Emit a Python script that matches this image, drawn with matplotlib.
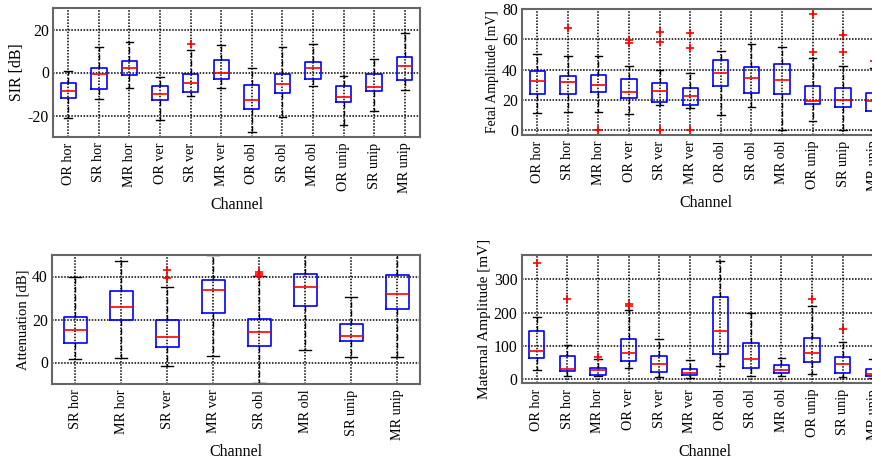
import matplotlib
matplotlib.use("Agg")
import matplotlib.pyplot as plt

plt.rcParams['font.family'] = ['Liberation Serif', 'DejaVu Serif']
plt.rcParams['axes.unicode_minus'] = False

ch12 = ['OR hor', 'SR hor', 'MR hor', 'OR ver', 'SR ver', 'MR ver',
        'OR obl', 'SR obl', 'MR obl', 'OR unip', 'SR unip', 'MR unip']
ch8 = ['SR hor', 'MR hor', 'SR ver', 'MR ver', 'SR obl', 'MR obl', 'SR unip', 'MR unip']

# SIR [dB]
sir_med = [-8.4, -0.6, 1.9, -10.0, -4.8, 0.0, -13.0, -5.5, 2.2, -11.6, -6.7, 2.8]
sir_q1 = [-12.0, -7.5, -1.25, -13.0, -9.1, -3.1, -16.9, -9.7, -2.8, -13.9, -8.6, -3.4]
sir_q3 = [-5.0, 2.3, 5.2, -6.25, -0.8, 5.6, -5.9, -0.5, 5.0, -6.1, -0.9, 7.0]
sir_lo = [-21.1, -12.3, -7.0, -21.9, -10.8, -7.3, -27.5, -20.5, -6.1, -24.4, -17.7, -8.0]
sir_hi = [0.9, 11.9, 14.1, -2.0, 10.5, 12.7, 1.9, 11.9, 13.1, -1.6, 6.1, 18.4]
sir_out = [[], [], [], [], [13.3], [], [], [], [], [], [], []]

# Fetal amplitude [mV]
fet_med = [32.9, 32.0, 30.3, 25.4, 26.1, 22.8, 38.2, 34.4, 33.1, 19.7, 20.4, 19.1]
fet_q1 = [23.9, 24.3, 25.4, 21.5, 18.9, 16.9, 29.4, 24.6, 24.3, 17.3, 15.6, 12.9]
fet_q3 = [39.5, 36.0, 36.6, 34.2, 31.6, 28.3, 46.3, 42.1, 43.6, 29.6, 28.3, 25.0]
fet_lo = [11.4, 12.1, 12.1, 10.7, 16.7, 14.9, 10.3, 15.4, 0.0, 6.4, 0.0, 0.0]
fet_hi = [50.7, 49.3, 49.3, 42.8, 40.1, 38.2, 52.2, 57.2, 55.3, 47.6, 42.5, 41.0]
fet_out = [[], [67.5], [0.0], [59.6, 57.9], [64.9, 58.1, 0.0], [64.5, 54.2, 0.0],
           [], [], [], [76.8, 51.5], [63.2, 51.5], [46.1]]

# Attenuation [dB]
att_med = [15.0, 25.7, 12.0, 33.8, 14.0, 35.2, 12.1, 31.8]
att_q1 = [8.9, 19.6, 7.2, 23.2, 7.8, 26.3, 9.8, 25.1]
att_q3 = [21.3, 33.3, 19.6, 38.2, 20.4, 41.3, 18.1, 40.7]
att_lo = [1.4, 2.2, -1.4, 3.0, -9.7, 5.8, 2.6, 2.5]
att_hi = [39.7, 47.2, 35.2, 49.8, 40.3, 52.0, 30.5, 52.0]
att_out = [[], [], [42.8, 39.1], [], [41.9, 41.0, 40.3], [], [], []]

# Maternal amplitude [mV]
mat_med = [84, 29, 26, 77, 45, 18, 143, 61, 28, 78, 45, 15]
mat_q1 = [62, 23, 13, 55, 21, 12, 75, 33, 18, 52, 19, 8]
mat_q3 = [143, 69, 33, 119, 69, 29, 246, 107, 41, 123, 67, 29]
mat_lo = [28, 10, 8, 33, 7, 4, 38, 9, 9, 15, 6, 3]
mat_hi = [188, 101, 61, 208, 120, 56, 355, 198, 64, 219, 110, 60]
mat_out = [[350], [240], [65], [225, 219], [], [], [], [], [], [240], [149], []]

W, H = 872, 459
fig = plt.figure(figsize=(W / 100, H / 100), dpi=100)


def make_ax(px_left, px_top, px_bottom, px_width=367):
    return fig.add_axes([px_left / W, 1 - px_bottom / H, px_width / W, (px_bottom - px_top) / H])


def draw(ax, labels, med, q1, q3, lo, hi, out, ylim, yticks, ylabel, ylabel_size):
    stats = []
    for i, lab in enumerate(labels):
        stats.append(dict(label=lab, med=med[i], q1=q1[i], q3=q3[i],
                          whislo=lo[i], whishi=hi[i], fliers=out[i]))
    ax.set_axisbelow(True)
    ax.bxp(stats, positions=range(1, len(labels) + 1), widths=0.5,
           showfliers=True, capwidths=0.25,
           boxprops=dict(color='#0000ff', linewidth=1.2),
           medianprops=dict(color='#ff0000', linewidth=1.2),
           whiskerprops=dict(color='black', linewidth=1.0, linestyle=(0, (4, 2))),
           capprops=dict(color='black', linewidth=1.0),
           flierprops=dict(marker='+', markeredgecolor='#ff0000', markersize=6,
                           markeredgewidth=1.2, linestyle='none'))
    ax.set_xlim(0.5, len(labels) + 0.5)
    ax.set_ylim(*ylim)
    ax.set_yticks(yticks)
    ax.set_xticks(range(1, len(labels) + 1))
    ax.set_xticklabels(labels, rotation=90, fontsize=10.2)
    ax.tick_params(axis='y', labelsize=11.3, length=0, pad=3)
    ax.tick_params(axis='x', length=0, pad=4)
    ax.grid(True, color='black', linestyle=(0, (1, 1)), linewidth=1.1)
    for s in ax.spines.values():
        s.set_color('#666666')
        s.set_linewidth(1.5)
    ax.set_xlabel('Channel', fontsize=11.5, labelpad=3)
    ax.set_ylabel(ylabel, fontsize=ylabel_size, labelpad=2)


ax1 = make_ax(53, 8, 137)
draw(ax1, ch12, sir_med, sir_q1, sir_q3, sir_lo, sir_hi, sir_out,
     (-30, 30), [-20, 0, 20], 'SIR [dB]', 11.4)

ax2 = make_ax(522, 8.7, 135)
draw(ax2, ch12, fet_med, fet_q1, fet_q3, fet_lo, fet_hi, fet_out,
     (-3, 80.3), [0, 20, 40, 60, 80], 'Fetal Amplitude [mV]', 9.9)

ax3 = make_ax(52, 255, 384, 368)
draw(ax3, ch8, att_med, att_q1, att_q3, att_lo, att_hi, att_out,
     (-10, 50), [0, 20, 40], 'Attenuation [dB]', 10.6)

ax4 = make_ax(521.5, 254.7, 383.3)
draw(ax4, ch12, mat_med, mat_q1, mat_q3, mat_lo, mat_hi, mat_out,
     (-13, 374), [0, 100, 200, 300], 'Maternal Amplitude [mV]', 11.0)

fig.savefig('out.png', dpi=100)
